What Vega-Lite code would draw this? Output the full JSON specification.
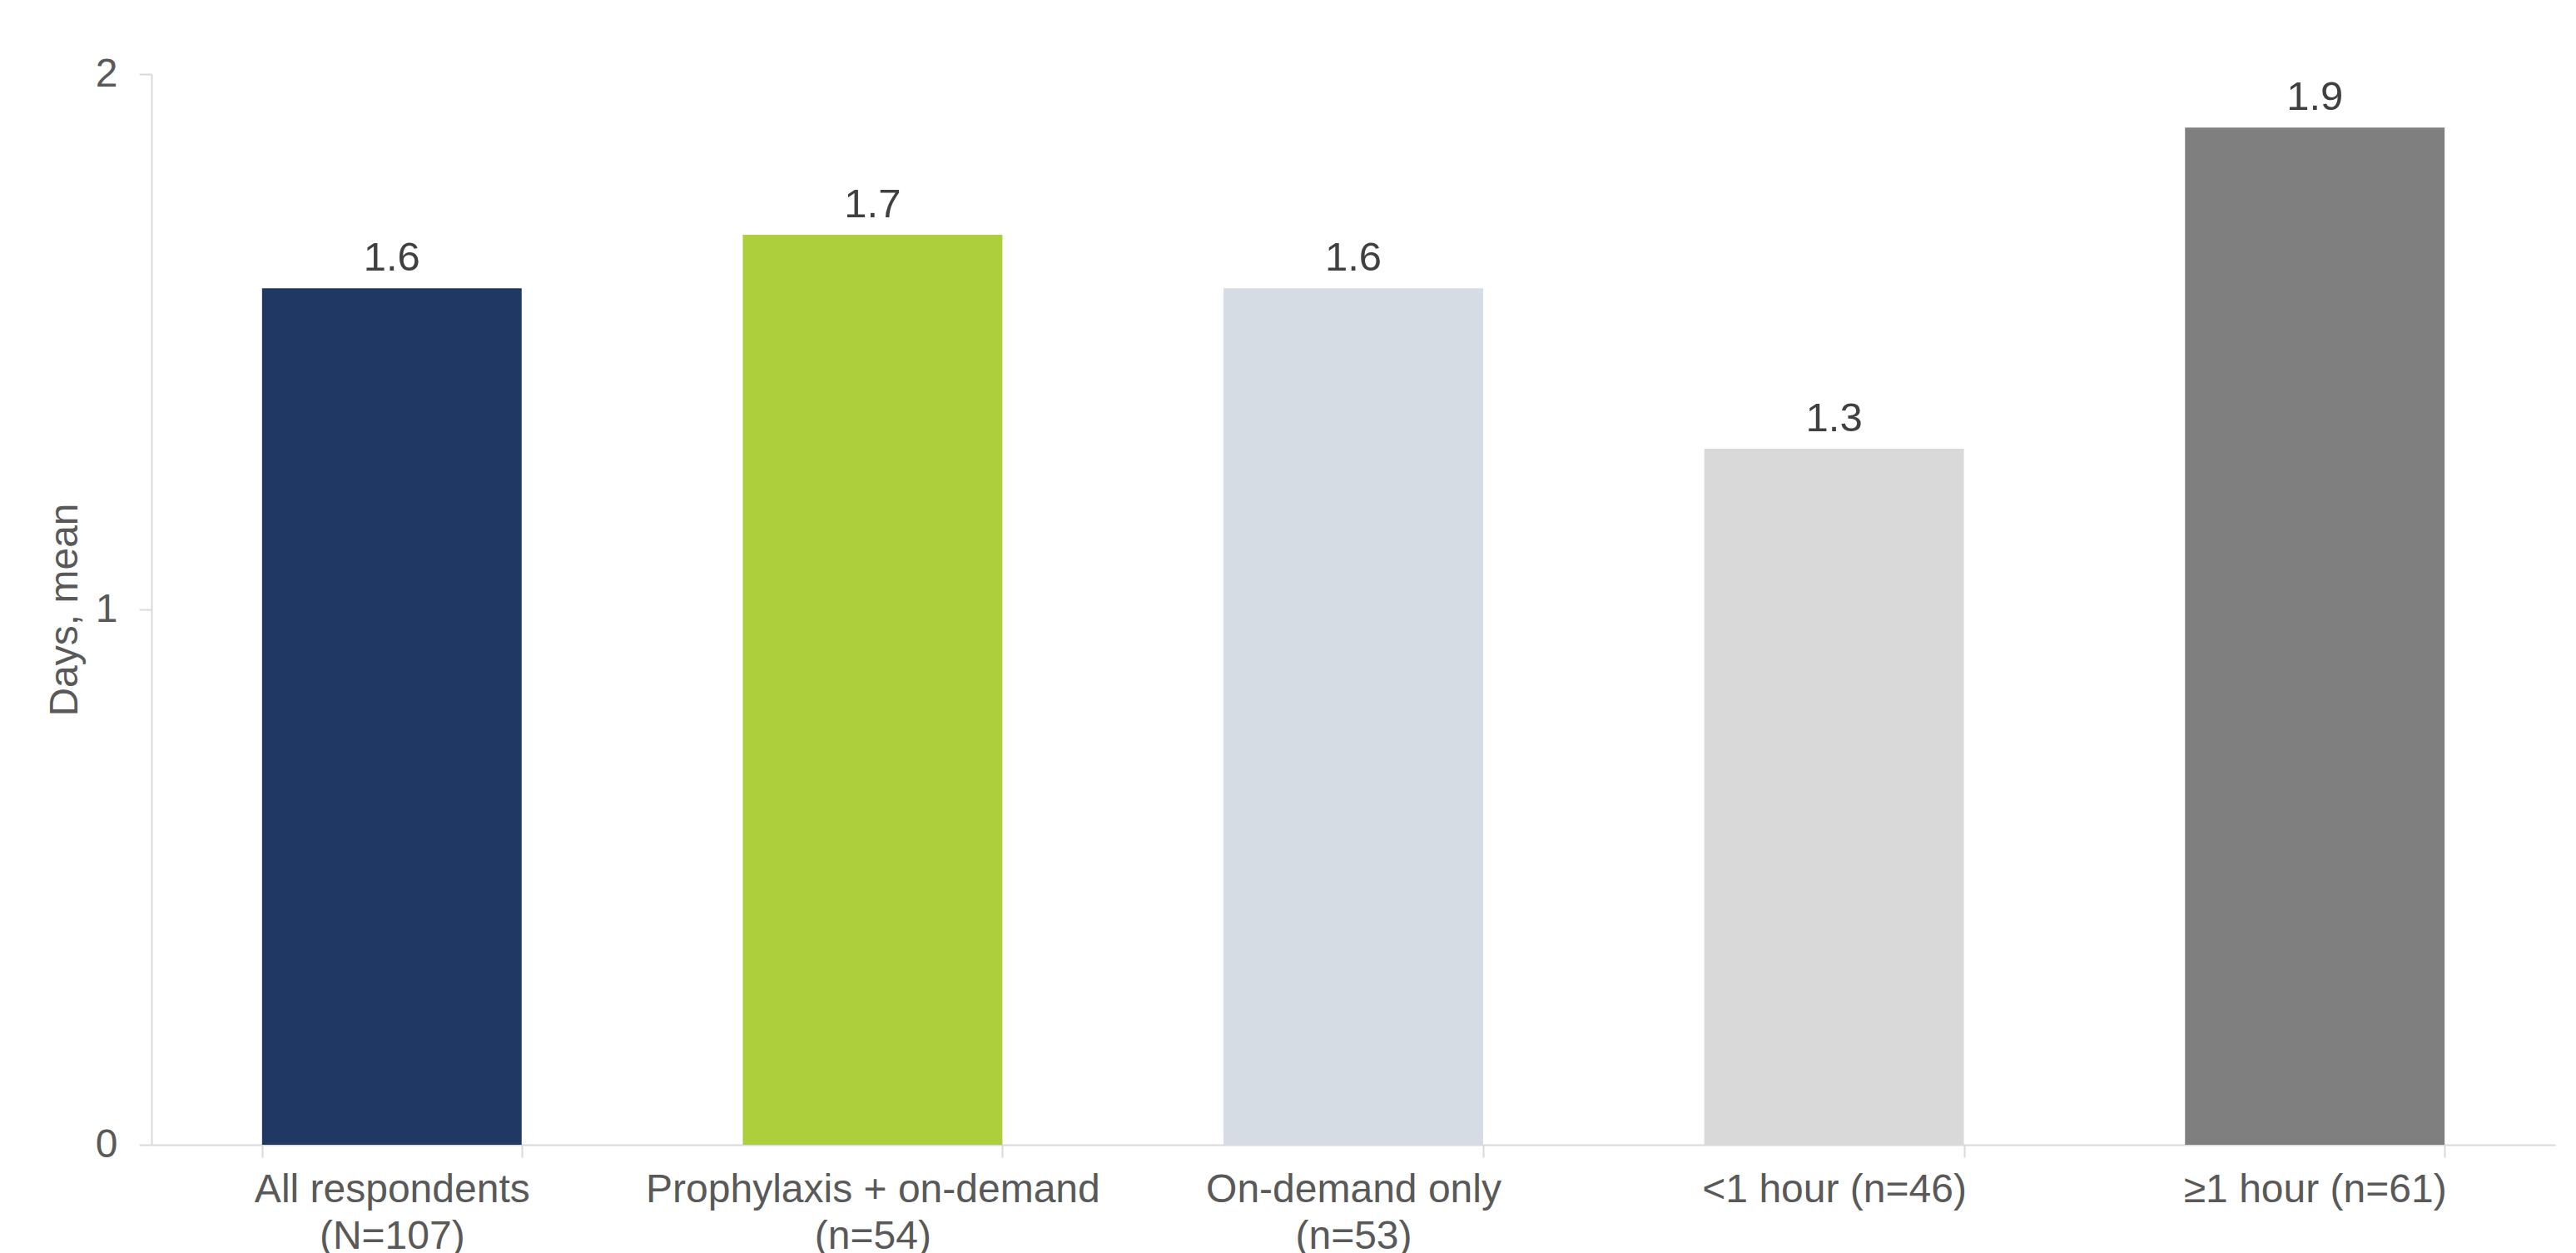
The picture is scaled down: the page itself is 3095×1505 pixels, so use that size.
{
  "$schema": "https://vega.github.io/schema/vega-lite/v6.json",
  "width": 2888,
  "height": 1286,
  "autosize": {"type": "none"},
  "padding": {"left": 182, "top": 89, "right": 25, "bottom": 130},
  "background": "white",
  "config": {
    "view": {"stroke": null},
    "font": "Liberation Sans"
  },
  "data": {
    "values": [
      {"group": "All respondents|(N=107)", "value": 1.6, "color": "#203864"},
      {"group": "Prophylaxis + on-demand|(n=54)", "value": 1.7, "color": "#AECF3C"},
      {"group": "On-demand only|(n=53)", "value": 1.6, "color": "#D6DCE4"},
      {"group": "<1 hour (n=46)", "value": 1.3, "color": "#D9D9D9"},
      {"group": "≥1 hour (n=61)", "value": 1.9, "color": "#7F7F7F"}
    ]
  },
  "encoding": {
    "x": {
      "field": "group",
      "type": "nominal",
      "sort": null,
      "scale": {"paddingInner": 0.46, "paddingOuter": 0.23},
      "axis": {
        "title": null,
        "labelAngle": 0,
        "labelExpr": "isString(datum.value) ? split(datum.value, '|') : ''",
        "labelFont": "Liberation Sans",
        "labelFontSize": 48,
        "labelColor": "#595959",
        "labelLineHeight": 56,
        "labelPadding": 15,
        "labelLimit": 1000,
        "labelOverlap": false,
        "tickBand": "extent",
        "tickSize": 15,
        "tickColor": "#D9D9D9",
        "tickWidth": 2,
        "domainColor": "#D9D9D9",
        "domainWidth": 2,
        "labelBaseline": "top"
      }
    },
    "y": {
      "field": "value",
      "type": "quantitative",
      "scale": {"domain": [0, 2], "nice": false},
      "axis": {
        "title": "Days, mean",
        "titleFont": "Liberation Sans",
        "titleFontSize": 48,
        "titleFontWeight": "normal",
        "titleColor": "#595959",
        "titlePadding": 12,
        "values": [0, 1, 2],
        "labelExpr": "format(datum.value, '.0f')",
        "labelOverlap": false,
        "labelFont": "Liberation Sans",
        "labelFontSize": 48,
        "labelColor": "#595959",
        "labelPadding": 26,
        "tickSize": 15,
        "tickColor": "#D9D9D9",
        "tickWidth": 2,
        "domainColor": "#D9D9D9",
        "domainWidth": 2,
        "grid": false
      }
    }
  },
  "layer": [
    {
      "mark": {"type": "bar"},
      "encoding": {
        "color": {"field": "color", "type": "nominal", "scale": null}
      }
    },
    {
      "mark": {
        "type": "text",
        "baseline": "bottom",
        "dy": -11,
        "font": "Liberation Sans",
        "fontSize": 49,
        "color": "#404040"
      },
      "encoding": {
        "text": {"field": "value", "type": "quantitative", "format": ".1f"}
      }
    }
  ]
}
